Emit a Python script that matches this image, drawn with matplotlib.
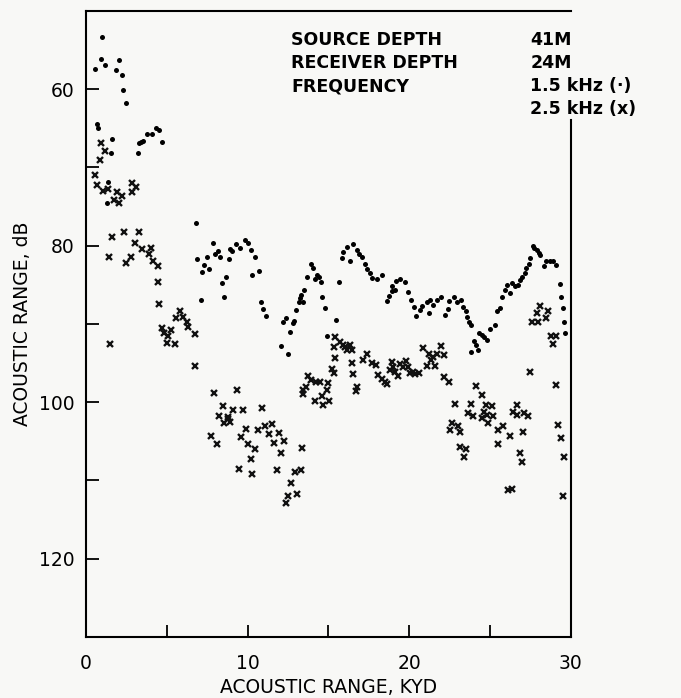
import numpy as np
import matplotlib
matplotlib.use("Agg")
import matplotlib.pyplot as plt

# 1.5 kHz 数据 (圆点)
dots_x = [0.54, 0.70, 0.76, 0.91, 1.01, 1.17, 1.30, 1.38, 1.55, 1.63, 1.84, 2.02, 2.21, 2.31, 2.46,
          3.23, 3.30, 3.40, 3.54, 3.79, 4.10, 4.33, 4.53, 4.70,
          6.80, 6.88, 7.09, 7.17, 7.32, 7.46, 7.59, 7.85, 7.95, 8.19, 8.29, 8.42, 8.56, 8.67, 8.84,
          8.89, 9.06, 9.30, 9.54, 9.81, 10.02, 10.20, 10.47, 10.28, 10.68, 10.80, 10.96, 11.13,
          12.04, 12.16, 12.37, 12.47, 12.62, 12.78, 12.88, 13.01, 13.15, 13.25, 13.31, 13.42, 13.48,
          13.65, 13.90, 14.06, 14.16, 14.30, 14.39, 14.53, 14.60, 14.76, 14.89, 15.46, 15.65, 15.81,
          15.88, 16.12, 16.33, 16.53, 16.74, 16.90, 17.07, 17.24, 17.40, 17.56, 17.67, 18.01, 18.32,
          18.63, 18.76, 18.92, 18.92, 19.13, 19.15, 19.42, 19.73, 19.93, 20.10, 20.28, 20.39, 20.64,
          20.78, 21.07, 21.23, 21.27, 21.48, 21.73, 21.95, 22.24, 22.37, 22.47, 22.76, 22.94, 23.19,
          23.33, 23.50, 23.58, 23.70, 23.79, 23.85, 24.00, 24.10, 24.26, 24.30, 24.47, 24.63, 24.78,
          24.98, 25.29, 25.40, 25.60, 25.71, 25.91, 26.02, 26.22, 26.33, 26.53, 26.74, 26.84, 26.98,
          27.15, 27.25, 27.40, 27.50, 27.63, 27.72, 27.91, 28.03, 28.12, 28.32, 28.45, 28.70, 28.90,
          29.11, 29.31, 29.40, 29.50, 29.58, 29.64]
dots_y = [57.4, 64.4, 65.0, 56.1, 53.4, 56.9, 74.5, 71.9, 68.1, 66.4, 57.5, 56.3, 58.2, 60.1, 61.8,
          68.1, 66.9, 66.7, 66.6, 65.7, 65.7, 64.9, 65.2, 66.7,
          77.1, 81.7, 86.9, 83.4, 82.5, 81.4, 83.0, 79.6, 81.1, 80.7, 81.4, 84.8, 86.6, 84.0, 81.7,
          80.4, 80.7, 79.8, 80.3, 79.3, 79.7, 80.6, 81.4, 83.8, 83.2, 87.2, 88.1, 89.0,
          92.8, 89.8, 89.2, 93.9, 91.0, 89.9, 89.6, 88.2, 87.2, 86.7, 86.3, 87.2, 85.7,
          84.0, 82.3, 82.9, 84.2, 83.8, 84.0, 84.7, 86.6, 88.0, 91.5, 89.5, 84.6, 81.6,
          80.8, 80.2, 82.0, 79.8, 80.5, 81.0, 81.4, 82.4, 83.0, 83.5, 84.1, 84.2, 83.8,
          87.1, 86.4, 85.8, 85.1, 85.7, 84.5, 84.2, 84.7, 85.9, 86.9, 87.8, 89.0, 88.2,
          87.7, 87.2, 88.6, 86.9, 87.6, 87.0, 86.6, 88.9, 88.1, 87.1, 86.6, 87.2, 86.9,
          87.8, 88.4, 89.1, 89.7, 90.1, 93.6, 92.2, 92.7, 93.3, 91.1, 91.4, 91.7, 92.0,
          90.6, 90.1, 88.4, 87.9, 86.5, 85.7, 85.0, 86.1, 84.8, 85.2, 85.0, 84.4, 84.0,
          83.5, 82.9, 82.3, 81.6, 80.1, 80.3, 80.5, 80.9, 81.2, 82.6, 82.0, 81.9, 82.0,
          82.5, 84.9, 86.5, 88.0, 89.8, 91.2]

# 2.5 kHz 数据 (叉号)
cross_x = [0.56, 0.70, 0.87, 0.91, 1.07, 1.18, 1.38, 1.48, 1.61, 1.40, 1.75, 1.90, 2.06, 2.21, 2.33,
           2.47, 2.80, 2.83, 2.83, 3.09, 3.05, 3.30, 3.48, 3.88, 4.02, 4.16, 4.43, 4.43, 4.51, 4.68,
           4.82, 4.99, 5.09, 5.24, 5.49, 5.57, 5.81, 6.02, 6.23, 6.29, 6.72, 6.77,
           7.71, 7.90, 8.08, 8.23, 8.45, 8.55, 8.76, 8.80, 8.91, 9.11, 9.36, 9.46, 9.60, 9.73, 9.91,
           10.04, 10.20, 10.25, 10.45, 10.62, 10.90, 11.09, 11.30, 11.48, 11.63, 11.83, 11.95, 12.08,
           12.24, 12.37, 12.49, 12.70, 12.92, 13.07, 13.28, 13.38,
           13.40, 13.44, 13.61, 13.71, 13.92, 14.14, 14.22, 14.45, 14.61, 14.68, 14.89, 14.98, 15.05,
           15.23, 15.34, 15.34, 15.40, 15.42, 15.71, 15.91, 16.02, 16.12, 16.33, 16.43, 16.43, 16.53,
           16.74, 16.70, 17.15, 17.36, 17.67, 17.93, 18.08, 18.29, 18.49, 18.60, 18.80, 18.91, 19.01,
           19.11, 19.31, 19.42, 19.62, 19.79, 19.93, 20.04, 20.24, 20.34, 20.61, 20.86, 21.07, 21.23,
           21.34, 21.48, 21.58, 21.73, 21.95, 22.16, 22.14, 22.45,
           22.82, 22.55, 22.63, 23.02, 23.13, 23.13, 23.50, 23.38, 23.79, 23.64, 23.95, 24.10, 24.51,
           24.73, 25.09, 24.61, 24.82, 25.19, 24.47, 24.88, 25.50, 25.81, 26.22, 25.46, 26.69, 26.42,
           26.67, 27.11, 27.35, 27.04, 26.88, 27.00, 27.46, 28.12, 27.91, 28.61, 28.45, 27.62, 27.97,
           28.74, 29.07, 28.90, 29.11, 29.23, 26.12, 26.38, 29.40, 29.60, 29.50]
cross_y = [71.0, 72.2, 69.0, 66.9, 73.0, 67.9, 72.7, 92.5, 78.9, 81.5, 74.1, 73.1, 74.5, 73.7, 78.3,
           82.2, 81.5, 72.0, 73.1, 72.5, 79.7, 78.2, 80.4, 81.1, 80.3, 82.0, 82.6, 84.6, 87.4, 90.5,
           91.1, 92.4, 91.6, 90.8, 92.6, 89.2, 88.3, 89.1, 89.7, 90.4, 91.3, 95.4,
           104.3, 98.8, 105.4, 101.7, 100.5, 102.6, 102.2, 101.9, 102.5, 101.0, 98.5, 108.5, 104.5, 101.0, 103.4,
           105.4, 107.2, 109.2, 106.0, 103.6, 100.7, 103.1, 104.0, 102.8, 105.2, 108.6, 103.9, 106.5,
           104.9, 112.9, 112.0, 110.3, 108.9, 111.7, 108.6, 105.8,
           98.5, 98.9, 98.0, 96.6, 97.2, 99.9, 97.4, 97.4, 99.2, 100.3, 98.5, 97.5, 99.8,
           95.7, 92.9, 96.3, 94.4, 91.7, 92.3, 92.7, 92.9, 93.3, 92.7, 93.3, 95.0, 96.4,
           98.0, 98.6, 94.6, 93.8, 95.0, 95.3, 96.5, 97.0, 97.4, 97.7, 95.9, 94.8, 95.5,
           96.2, 96.7, 95.1, 95.5, 94.7, 95.5, 96.3, 96.1, 96.4, 96.3, 93.1, 95.4, 93.8,
           94.6, 94.2, 95.4, 93.8, 92.8, 94.0, 96.8, 97.4,
           100.2, 103.5, 102.7, 103.1, 103.8, 105.7, 106.0, 107.0, 100.2, 101.4, 101.7, 97.9, 99.1,
           100.4, 100.5, 101.3, 101.6, 101.7, 102.0, 102.7, 103.5, 103.1, 104.3, 105.4, 100.4, 101.3,
           101.6, 101.4, 101.7, 103.8, 106.5, 107.7, 96.2, 87.7, 88.6, 88.4, 89.2, 89.7, 89.8,
           91.5, 91.6, 92.6, 97.8, 102.9, 111.2, 111.1, 104.6, 107.0, 112.0]

x_ticks = [0, 5, 10, 15, 20, 25, 30]
x_tick_labels = ['0', '', '10', '', '20', '', '30']
y_ticks = [60, 70, 80, 90, 100, 110, 120]
y_tick_labels = ['60', '', '80', '', '100', '', '120']

legend_keys = ['SOURCE DEPTH', 'RECEIVER DEPTH', 'FREQUENCY', '']
legend_vals = ['41M', '24M', '1.5 kHz (\u00b7)', '2.5 kHz (x)']

bg = '#f8f8f6'
fig = plt.figure(figsize=(6.81, 6.98), dpi=100, facecolor=bg)
ax = fig.add_axes([0.1263, 0.0874, 0.712, 0.897], facecolor=bg)

# 画点
ax.plot(dots_x, dots_y, linestyle='none', marker='o', markersize=3.6,
        color='black', markeredgewidth=0)
ax.plot(cross_x, cross_y, linestyle='none', marker='x', markersize=4.6,
        color='#111111', markeredgewidth=1.7)

ax.set_xlim(0, 30)
ax.set_ylim(130, 50)

ax.set_xticks(x_ticks)
ax.set_xticklabels(x_tick_labels)
ax.set_yticks(y_ticks)
ax.set_yticklabels(y_tick_labels)
ax.tick_params(axis='both', direction='in', length=9, width=1.3, labelsize=13.5,
               top=False, right=False, pad=8)
ax.tick_params(axis='x', pad=12)

for s in ax.spines.values():
    s.set_linewidth(1.5)
# 右边框在说明文字处断开
ax.spines['right'].set_bounds(64, 130)

ax.set_xlabel('ACOUSTIC RANGE, KYD', fontsize=13.5, labelpad=4)
ax.set_ylabel('ACOUSTIC RANGE, dB', fontsize=13.5, labelpad=5)

# 右上角说明文字
line_y = [53.7, 56.6, 59.6, 62.5]
for key, val, yy in zip(legend_keys, legend_vals, line_y):
    ax.text(12.7, yy, key, fontsize=12.5, fontweight='bold', va='center', ha='left')
    ax.text(27.5, yy, val, fontsize=12.5, fontweight='bold', va='center', ha='left')

fig.savefig('out.png', dpi=100, facecolor=bg)
